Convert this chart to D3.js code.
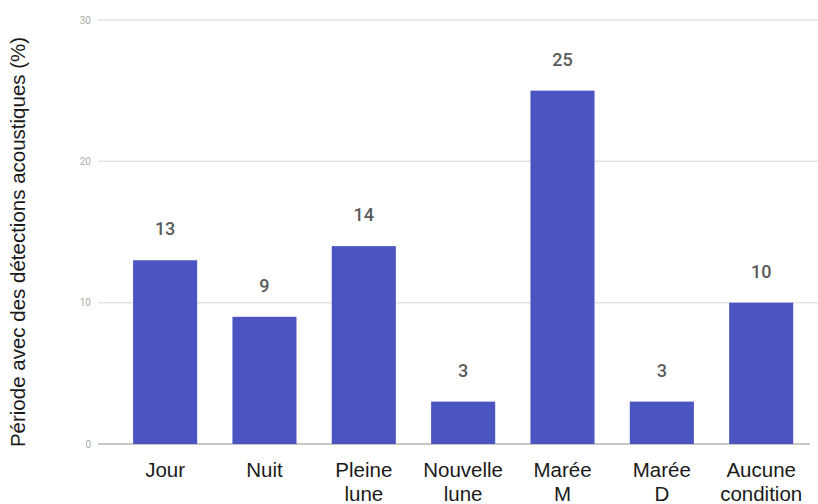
<!DOCTYPE html>
<html><head><meta charset="utf-8">
<script src="https://cdn.jsdelivr.net/npm/d3@7"></script>
<style>body{margin:0;background:#fff}svg{display:block}</style>
</head><body><svg id="c" width="818" height="504"></svg>
<script>
const categories = [["Jour"],["Nuit"],["Pleine","lune"],["Nouvelle","lune"],["Marée","M"],["Marée","D"],["Aucune","condition"]];
const values = [13, 9, 14, 3, 25, 3, 10];
const yTicks = [0, 10, 20, 30];
const yTitle = "Période avec des détections acoustiques (%)";

const svg = d3.select("#c");
const font = "Liberation Sans, Arial, sans-serif";
const x = d3.scaleBand().domain(d3.range(values.length)).range([115.5, 810.8]).paddingInner(0.355).paddingOuter(0.177);
const y = d3.scaleLinear().domain([0, 30]).range([444, 20]);

// gridlines
svg.append("g").selectAll("line").data(yTicks.filter(d => d > 0)).join("line")
  .attr("x1", 98).attr("x2", 818).attr("y1", d => y(d)).attr("y2", d => y(d))
  .attr("stroke", "#e3e3e3").attr("stroke-width", 1.5);
// baseline
svg.append("line").attr("x1", 98).attr("x2", 810).attr("y1", y(0)).attr("y2", y(0))
  .attr("stroke", "#c8c8c8").attr("stroke-width", 2);

// y tick labels
svg.append("g").selectAll("text").data(yTicks).join("text")
  .attr("x", 91).attr("y", d => y(d) + 3.5).attr("text-anchor", "end")
  .attr("font-family", "Roboto, sans-serif").attr("font-size", 10).attr("fill", "#aaa").text(d => d);

// bars
svg.append("g").selectAll("rect").data(values).join("rect")
  .attr("x", (d, i) => x(i)).attr("width", x.bandwidth())
  .attr("y", d => y(d)).attr("height", d => y(0) - y(d))
  .attr("fill", "#4b55c1");

// value labels
svg.append("g").selectAll("text").data(values).join("text")
  .attr("x", (d, i) => x(i) + x.bandwidth() / 2).attr("y", d => y(d) - 25)
  .attr("text-anchor", "middle").attr("font-family", "Roboto, sans-serif").attr("font-size", 18)
  .attr("font-weight", 500).attr("fill", "#5a5a5a").text(d => d);

// category labels
const cl = svg.append("g").selectAll("text").data(categories).join("text")
  .attr("text-anchor", "middle").attr("font-family", font).attr("font-size", 20.5).attr("fill", "#1a1a1a");
cl.each(function(lines, i) {
  const t = d3.select(this);
  lines.forEach((l, j) => t.append("tspan").attr("x", x(i) + x.bandwidth() / 2).attr("y", 477 + j * 24).text(l));
});

// y title
svg.append("text").attr("transform", "translate(25,242) rotate(-90)")
  .attr("text-anchor", "middle").attr("font-family", font).attr("font-size", 20.5)
  .attr("fill", "#1a1a1a").text(yTitle);
</script></body></html>
